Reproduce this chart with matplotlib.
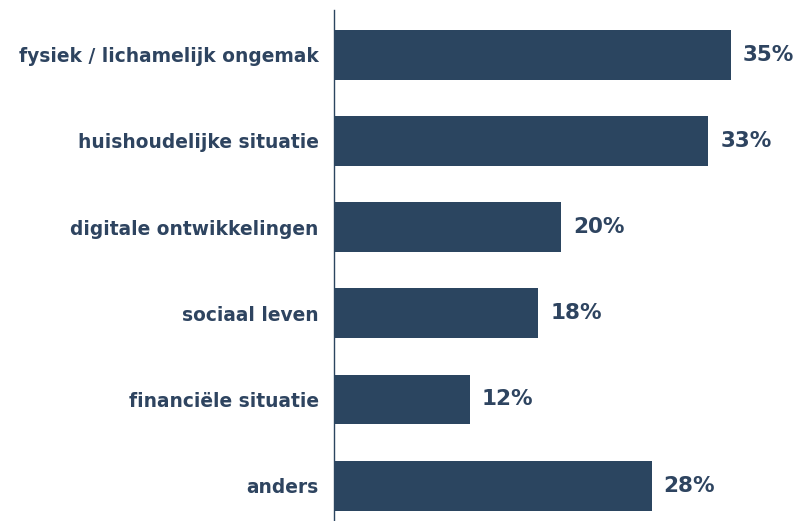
import matplotlib.pyplot as plt

plt.rcParams['font.family'] = ['DejaVu Sans']

# data
categories = ["fysiek / lichamelijk ongemak", "huishoudelijke situatie",
              "digitale ontwikkelingen", "sociaal leven",
              "financiële situatie", "anders"]
values = [35, 33, 20, 18, 12, 28]

bar_color = "#2b4560"
text_color = "#2e4460"

fig = plt.figure(figsize=(7.98, 5.21), dpi=100)
ax = fig.add_axes([334 / 798, 0, 464 / 798, 1 - 10 / 521])

pos = list(range(len(categories)))
ax.barh(pos, values, height=0.58, color=bar_color)

for p, v in zip(pos, values):
    ax.text(v + 1.05, p, f"{v}%", va="center", ha="left", family="DejaVu Sans",
            fontsize=15.5, fontweight="bold", color=text_color)

ax.set_yticks(pos)
ax.set_yticklabels(categories, fontsize=13.4, fontweight="bold",
                   color=text_color, family="DejaVu Sans")
ax.tick_params(axis="y", length=0, pad=11)
ax.set_xticks([])
ax.set_xlim(0, 40.9)
ax.set_ylim(5.41, -0.52)

for s in ["top", "right", "bottom"]:
    ax.spines[s].set_visible(False)
ax.spines["left"].set_color(bar_color)
ax.spines["left"].set_linewidth(1)

plt.savefig("out.png", dpi=100)
